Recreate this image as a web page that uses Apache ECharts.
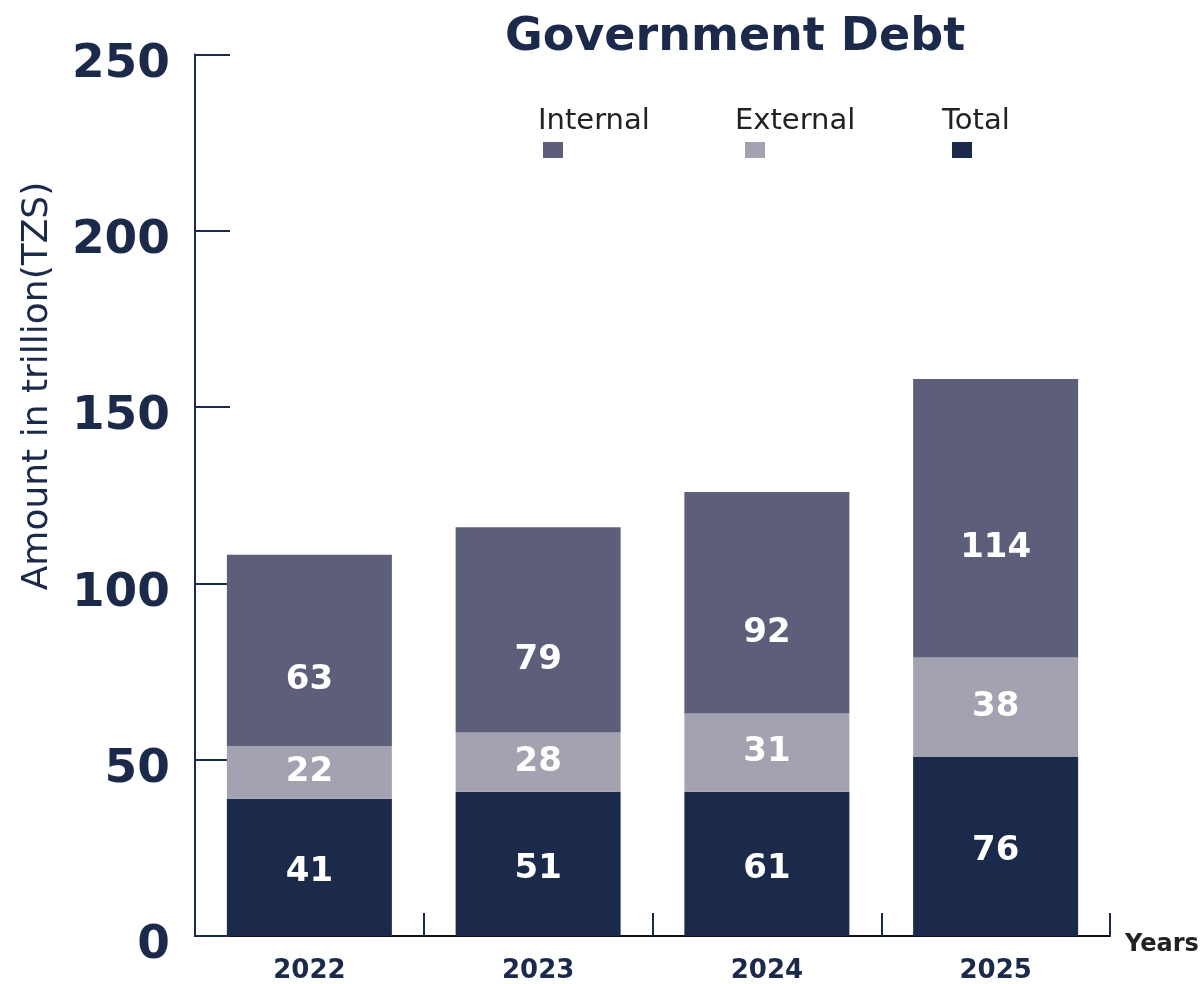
<!DOCTYPE html>
<html>
<head>
<meta charset="utf-8">
<title>Government Debt</title>
<script src="https://cdn.jsdelivr.net/npm/echarts@6/dist/echarts.min.js"></script>
<style>
  html, body { margin: 0; padding: 0; background: #fff; }
  #chart { width: 1204px; height: 984px; }
</style>
</head>
<body>
<div id="chart"></div>
<script>
// 数据 (bar heights, labels as printed)
const years = ['2022', '2023', '2024', '2025'];
const totalValues = [38.9, 40.9, 40.9, 50.8];
const externalValues = [15.0, 16.8, 22.2, 28.2];
const internalValues = [54.2, 58.2, 62.8, 79.0];
const totalLabels = [41, 51, 61, 76];
const externalLabels = [22, 28, 31, 38];
const internalLabels = [63, 79, 92, 114];
const legendNames = ['Internal', 'External', 'Total'];

const FONT = '"DejaVu Sans", Roboto, sans-serif';
const NAVY = '#1b2a4a';
const colors = { Internal: '#5d5e7a', External: '#a3a2b0', Total: NAVY };

function makeSeries(name, values, labels, offset) {
  return {
    name: name,
    type: 'bar',
    stack: 'debt',
    barWidth: 165,
    data: values,
    itemStyle: { color: colors[name] },
    label: {
      show: true,
      position: 'inside',
      offset: offset,
      color: '#fff',
      fontFamily: FONT,
      fontWeight: 'bold',
      fontSize: 34,
      formatter: (p) => String(labels[p.dataIndex]),
    },
  };
}

// 图例方块
const legendLefts = [543, 745, 952];
const legendTexts = [538, 735, 942];
const legends = legendNames.map((n, i) => ({
  data: [{ name: n, icon: 'rect' }],
  left: legendLefts[i],
  top: 142,
  padding: 0,
  itemWidth: 20,
  itemHeight: 16,
  selectedMode: false,
  formatter: () => '',
}));

const titles = [{
  text: 'Government Debt',
  left: 505,
  top: 15,
  padding: 0,
  textStyle: { color: NAVY, fontFamily: FONT, fontWeight: 'bold', fontSize: 46 },
}].concat(legendNames.map((n, i) => ({
  text: n,
  left: legendTexts[i],
  top: 107,
  padding: 0,
  textStyle: { color: '#222', fontFamily: FONT, fontWeight: 'normal', fontSize: 29 },
})));

const option = {
  animation: false,
  title: titles,
  legend: legends,
  grid: { left: 195, right: 94, top: 54.5, bottom: 48, containLabel: false },
  xAxis: {
    type: 'category',
    data: years,
    name: 'Years',
    nameLocation: 'end',
    nameGap: 15,
    nameTextStyle: {
      color: '#222', fontFamily: FONT, fontWeight: 'bold', fontSize: 24,
      verticalAlign: 'top', padding: [-3, 0, 0, 0],
    },
    axisLine: { show: true, lineStyle: { color: '#111', width: 2 } },
    axisTick: { show: true, inside: true, length: 23, lineStyle: { color: NAVY, width: 2 } },
    axisLabel: { color: NAVY, fontFamily: FONT, fontWeight: 'bold', fontSize: 26, margin: 22 },
  },
  yAxis: {
    type: 'value',
    min: 0,
    max: 250,
    interval: 50,
    axisLine: { show: true, lineStyle: { color: NAVY, width: 2 } },
    axisTick: { show: true, inside: true, length: 35, lineStyle: { color: NAVY, width: 2 } },
    splitLine: { show: false },
    axisLabel: {
      color: NAVY, fontFamily: FONT, fontWeight: 'bold', fontSize: 47, margin: 25,
      verticalAlign: 'top', lineHeight: 20,
    },
  },
  graphic: [{
    type: 'text',
    x: 38,
    y: 386,
    rotation: Math.PI / 2,
    style: {
      text: 'Amount in trillion(TZS)',
      fill: NAVY,
      font: '36px ' + FONT,
      align: 'center',
      verticalAlign: 'middle',
    },
  }],
  series: [
    makeSeries('Total', totalValues, totalLabels, [0, 5]),
    makeSeries('External', externalValues, externalLabels, [0, 0]),
    makeSeries('Internal', internalValues, internalLabels, [0, 30]),
  ],
};

const myChart = echarts.init(document.getElementById('chart'));
myChart.setOption(option);
</script>
</body>
</html>
